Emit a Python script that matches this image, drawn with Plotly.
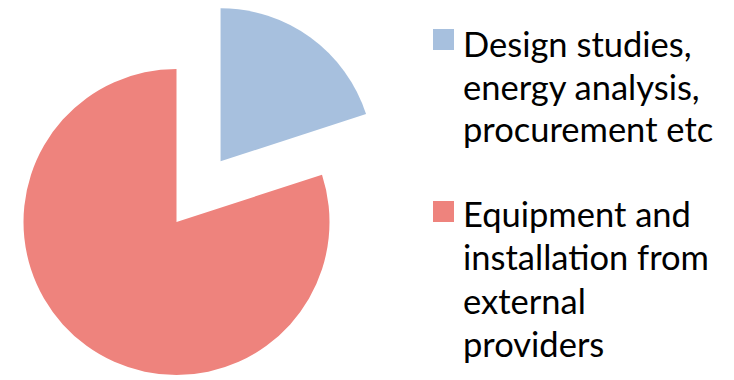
import math
import plotly.graph_objects as go

# ---- data ----
labels = ["Design studies,<br>energy analysis,<br>procurement etc",
          "Equipment and<br>installation from<br>external<br>providers"]
values = [20, 80]
colors = ["#A7C0DE", "#EE837D"]
pulled = [True, False]
pull_amount = 0.49

# ---- layout geometry (pixels, figure coordinates) ----
# the page body has an 8px margin, so the figure is sized to fill the rest
W, H = 726, 372
R = 153
CX, CY = 168.5, 214


def domain(cx, cy, r):
    y0 = max(0.0, 1 - (cy + r) / H)
    y1 = min(1.0, 1 - (cy - r) / H)
    x0 = max(0.0, (cx - r) / W)
    x1 = min(1.0, (cx + r) / W)
    return dict(x=[x0, x1], y=[y0, y1])


total = float(sum(values))
fig = go.Figure()
start = 0.0
for i, (lab, v, c) in enumerate(zip(labels, values, colors)):
    mid = math.radians(360.0 * (start + v / 2) / total)
    start += v
    off = pull_amount * R if pulled[i] else 0.0
    cx = CX + off * math.sin(mid)
    cy = CY - off * math.cos(mid)
    cols = ["rgba(0,0,0,0)"] * len(values)
    cols[i] = c
    fig.add_trace(go.Pie(
        labels=[l.replace("<br>", " ") for l in labels], values=values,
        sort=False, direction="clockwise", rotation=0,
        marker=dict(colors=cols, line=dict(width=0)),
        textinfo="none", hoverinfo="label+percent",
        showlegend=False, domain=domain(cx, cy, R),
    ))

# custom legend (squares + text), built from labels/colors
leg_x0, leg_sq = 425, 21
leg_tops = [21, 193]
line_first = [35, 206]
pitch = 43
for lab, c, top, y_first in zip(labels, colors, leg_tops, line_first):
    fig.add_shape(type="rect", xref="paper", yref="paper",
                  x0=leg_x0 / W, x1=(leg_x0 + leg_sq) / W,
                  y0=1 - (top + leg_sq) / H, y1=1 - top / H,
                  fillcolor=c, line=dict(width=0))
    for k, line in enumerate(lab.split("<br>")):
        fig.add_annotation(text=line, xref="paper", yref="paper",
                           x=453 / W, y=1 - (y_first + k * pitch) / H,
                           xanchor="left", yanchor="middle", align="left",
                           showarrow=False,
                           font=dict(family="Lato", size=34.5, color="#000000"))

fig.update_layout(width=W, height=H, margin=dict(l=0, r=0, t=0, b=0),
                  paper_bgcolor="white", plot_bgcolor="white",
                  showlegend=False)
fig.write_html("out.html")
